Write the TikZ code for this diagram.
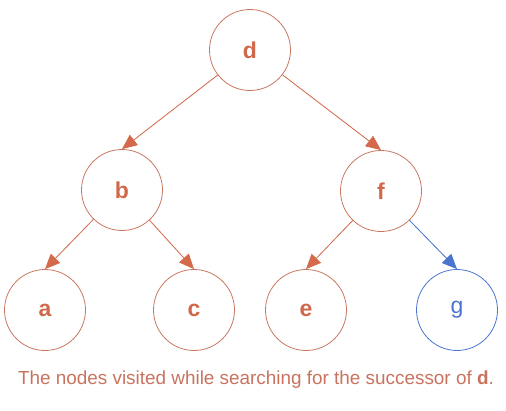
\documentclass[tikz,border=0pt]{standalone}
\usepackage{fontspec}
\setmainfont{Liberation Sans}
\usetikzlibrary{
    positioning,
    arrows.meta
}
\definecolor{rim}{HTML}{C8765F}
\definecolor{ink}{HTML}{D0694B}
\definecolor{edgered}{HTML}{D4694C}
\definecolor{edgeblue}{HTML}{4A74CF}
\definecolor{caption}{HTML}{C9735F}

\begin{document}
\begin{tikzpicture}[
    x=1pt, y=-1pt,
    tnode/.style={circle, draw=rim, line width=0.8pt, minimum size=81pt, inner sep=0pt,
                  text=ink, font=\fontsize{23}{27}\selectfont\bfseries},
    goal/.style={tnode, draw=edgeblue, text=edgeblue, font=\fontsize{23}{27}\selectfont},
    arrow/.style={-{Triangle[length=15pt, width=13pt]}, line width=0.8pt, draw=edgered, fill=edgered},
    bluearrow/.style={arrow, draw=edgeblue, fill=edgeblue}
]
\useasboundingbox (0,0) rectangle (506,410);

% ================= NODES =================
\node[tnode] (d) at (250,50) {d};
\node[tnode] (b) at (122,190) {b};
\node[tnode] (f) at (381,191) {f};
\node[tnode] (a) at (45,310) {a};
\node[tnode] (c) at (194,310) {c};
\node[tnode] (e) at (306,310) {e};
\node[goal] (g) at (457,310) {g};

\node[text=caption, font=\fontsize{18.9}{22}\selectfont] (cap) at (256,380)
    {The nodes visited while searching for the successor of \textbf{d}.};

% ================= ARROWS =================
\draw[arrow] (d) -- (b.north);
\draw[arrow] (d) -- (f.north);
\draw[arrow] (b) -- (a.north);
\draw[arrow] (b) -- (c.north);
\draw[arrow] (f) -- (e.north);
\draw[bluearrow] (f) -- (g.north);

\end{tikzpicture}
\end{document}
